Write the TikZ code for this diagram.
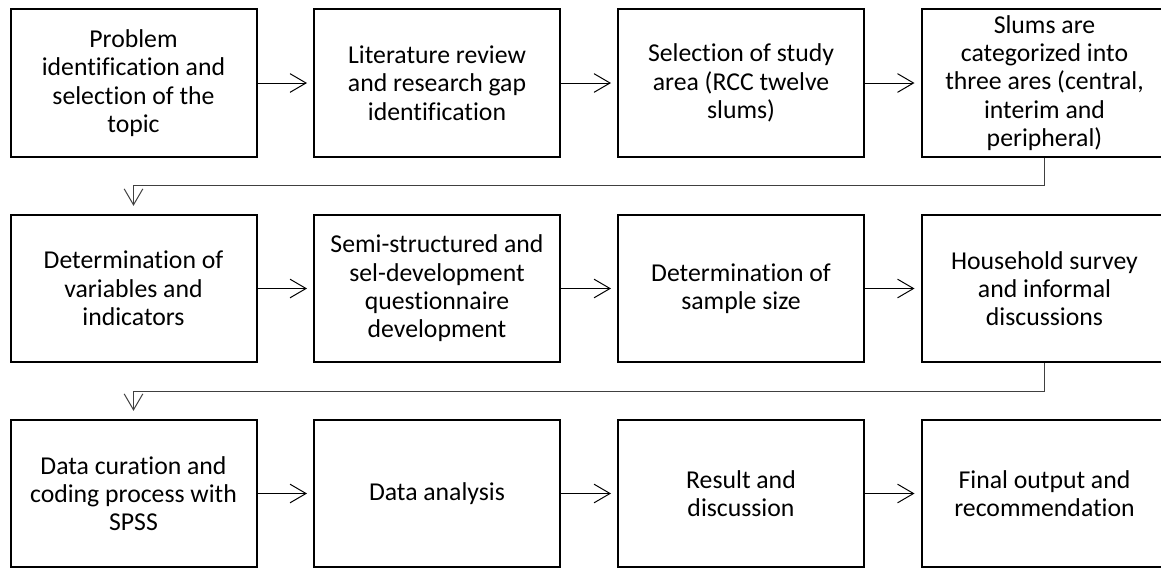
\documentclass[tikz,border=0pt]{standalone}
\usepackage{fontspec}
\setmainfont{Carlito}[Ligatures={NoCommon,NoRequired,NoContextual}]
\usetikzlibrary{arrows.meta,calc}
\begin{document}
\begin{tikzpicture}[x=0.75pt,y=-0.75pt,
  box/.style={draw, line width=1.5pt, minimum width=184.5pt, minimum height=110.5pt,
    align=center, inner sep=0pt, font=\fontsize{19.3}{21.2}\selectfont},
  harrow/.style={line width=0.75pt, -{Straight Barb[length=12pt,width=14pt]}, shorten >=4.5pt},
  darrow/.style={line width=0.75pt, draw=black!75, -{Straight Barb[length=12pt,width=14pt]}, shorten >=6pt}]
\clip (0,0) rectangle (1161,569);
\node[box] (b1) at (133.5,83) {Problem\\identification and\\selection of the\\topic};
\node[box] (b2) at (437,83) {Literature review\\and research gap\\identification};
\node[box] (b3) at (741,83) {Selection of study\\area (RCC twelve\\slums)};
\node[box] (b4) at (1044.5,83) {Slums are\\categorized into\\three ares (central,\\interim and\\peripheral)};
\node[box] (b5) at (133.5,288.5) {Determination of\\variables and\\indicators};
\node[box] (b6) at (437,288.5) {Semi-structured and\\sel-development\\questionnaire\\development};
\node[box] (b7) at (741,288.5) {Determination of\\sample size};
\node[box] (b8) at (1044.5,288.5) {Household survey\\and informal\\discussions};
\node[box] (b9) at (133.5,493.5) {Data curation and\\coding process with\\SPSS};
\node[box] (b10) at (437,493.5) {Data analysis};
\node[box] (b11) at (741,493.5) {Result and\\discussion};
\node[box] (b12) at (1044.5,493.5) {Final output and\\recommendation};
\draw[harrow] (b1) -- (b2);
\draw[harrow] (b2) -- (b3);
\draw[harrow] (b3) -- (b4);
\draw[harrow] (b5) -- (b6);
\draw[harrow] (b6) -- (b7);
\draw[harrow] (b7) -- (b8);
\draw[harrow] (b9) -- (b10);
\draw[harrow] (b10) -- (b11);
\draw[harrow] (b11) -- (b12);
\draw[darrow] (b4.south) |- ($(b1.south)!0.5!(b5.north)$) -| (b5.north);
\draw[darrow] (b8.south) |- ($(b5.south)!0.5!(b9.north)$) -| (b9.north);
\end{tikzpicture}
\end{document}
